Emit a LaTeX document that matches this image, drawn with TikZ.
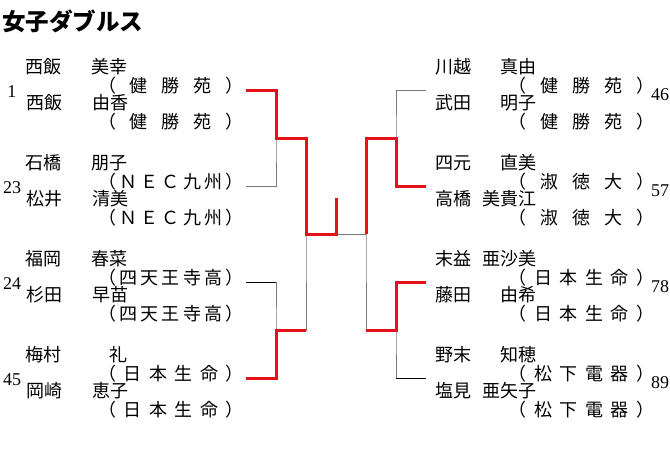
\documentclass[tikz,border=0pt]{standalone}
\usepackage{fontspec}
\setmainfont{Liberation Serif}
\newfontfamily\jp{Noto Sans CJK JP}
\definecolor{winred}{RGB}{228,18,24}
\definecolor{linegray}{RGB}{120,120,120}
\tikzstyle{nm} = [inner sep=0pt, font=\jp\fontsize{18}{18}\selectfont]
\tikzstyle{club} = [nm, text width=146pt]
\tikzstyle{seed} = [inner sep=0pt, font=\fontsize{18}{18}\selectfont]
\tikzstyle{lost} = [draw=linegray, line width=1pt]
\tikzstyle{leaf} = [draw=black, line width=0.8pt]
\tikzstyle{won} = [draw=winred, line width=3pt, line join=miter]
\newcommand{\gp}{\hfill}
\newcommand{\cl}[1]{\makebox[146pt][s]{#1}}
% #1 id, #2 y, #3/#4 first player, #5/#6 second player, #7 club, #8 seed
\newcommand{\pairL}[8]{%
	\node [nm, anchor=west] (#1a) at (25,#2) {#3};%
	\node [nm, anchor=east] (#1b) at (128,#2) {#4};%
	\node [club] (#1c) at (171,#2+18.5) {\cl{#7}};%
	\node [nm, anchor=west] (#1d) at (26,#2+36) {#5};%
	\node [nm, anchor=east] (#1e) at (129,#2+36) {#6};%
	\node [club] (#1f) at (171,#2+54.5) {\cl{#7}};%
	\node [seed] (#1n) at (12,#2+25) {#8};%
}
\newcommand{\pairR}[8]{%
	\node [nm, anchor=west] (#1a) at (435,#2) {#3};%
	\node [nm, anchor=east] (#1b) at (537,#2) {#4};%
	\node [club] (#1c) at (581.5,#2+18.5) {\cl{#7}};%
	\node [nm, anchor=west] (#1d) at (435,#2+36) {#5};%
	\node [nm, anchor=east] (#1e) at (537,#2+36) {#6};%
	\node [club] (#1f) at (581.5,#2+54.5) {\cl{#7}};%
	\node [seed] (#1n) at (660,#2+28) {#8};%
}

\begin{document}
\begin{tikzpicture}[x=1pt, y=-1pt]%
	\useasboundingbox (0,0) rectangle (670,462);%
	\node [inner sep=0pt, anchor=west, font=\jp\bfseries\fontsize{23.5}{23.5}\selectfont] (title) at (2,21) {女子ダブルス};%
	% left half
	\pairL{p1}{67}{西飯}{美幸}{西飯}{由香}{（\gp 健\gp 勝\gp 苑\gp ）}{1}%
	\pairL{p23}{163}{石橋}{朋子}{松井}{清美}{（\gp Ｎ\gp Ｅ\gp Ｃ\gp 九\gp 州\gp ）}{23}%
	\pairL{p24}{259}{福岡}{春菜}{杉田}{早苗}{（\gp 四\gp 天\gp 王\gp 寺\gp 高\gp ）}{24}%
	\pairL{p45}{355}{梅村}{礼}{岡崎}{恵子}{（\gp 日\gp 本\gp 生\gp 命\gp ）}{45}%
	% right half
	\pairR{p46}{67}{川越}{真由}{武田}{明子}{（\gp 健\gp 勝\gp 苑\gp ）}{46}%
	\pairR{p57}{163}{四元}{直美}{高橋}{美貴江}{（\gp 淑\gp 徳\gp 大\gp ）}{57}%
	\pairR{p78}{259}{末益}{亜沙美}{藤田}{由希}{（\gp 日\gp 本\gp 生\gp 命\gp ）}{78}%
	\pairR{p89}{355}{野末}{知穂}{塩見}{亜矢子}{（\gp 松\gp 下\gp 電\gp 器\gp ）}{89}%
	% bracket points
	\coordinate (l1) at (246,90.5); \coordinate (l23) at (246,186.5);%
	\coordinate (l24) at (246,282.5); \coordinate (l45) at (246,378.5);%
	\coordinate (r46) at (426,90.5); \coordinate (r57) at (426,186.5);%
	\coordinate (r78) at (426,282.5); \coordinate (r89) at (426,378.5);%
	\coordinate (ja) at (276,138.5); \coordinate (jb) at (276,330.5);%
	\coordinate (jc) at (396,138.5); \coordinate (jd) at (396,330.5);%
	\coordinate (jx) at (306,234.5); \coordinate (jy) at (366,234.5);%
	\coordinate (fin) at (336,234.5); \coordinate (top) at (336,198);%
	% lines
	\draw [lost] (l1) -| (ja) |- (l23);%
	\draw [lost] (l24) -| (jb) |- (l45);%
	\draw [lost] (ja) -| (jx) |- (jb);%
	\draw [lost] (r46) -| (jc) |- (r57);%
	\draw [lost] (r78) -| (jd) |- (r89);%
	\draw [lost] (jc) -| (jy) |- (jd);%
	\draw [lost] (fin) -- (jy);%
	\draw [leaf] (l24) -- (l24 -| jb);%
	\draw [leaf] (r89) -- (r89 -| jd);%
	\draw [won] (l1) -| (ja) -| (jx) -- (fin) -- (top);%
	\draw [won] (l45) -| (jb) -- (jb -| jx);%
	\draw [won] (r57) -| (jc) -| (jy);%
	\draw [won] (r78) -| (jd) -- (jd -| jy);%
\end{tikzpicture}
\end{document}
